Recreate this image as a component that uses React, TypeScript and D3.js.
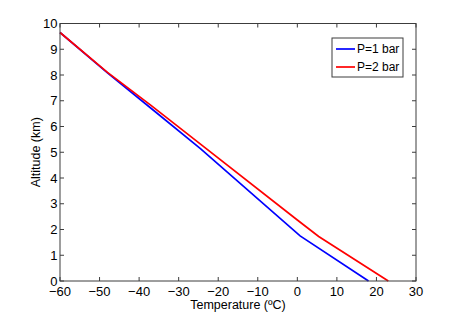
import React from "react";
import * as d3 from "d3";

const W = 460;
const H = 317;
const margin = { top: 23.5, right: 44, bottom: 36, left: 60 };

// temperature (°C) vs altitude (km)
const p1Temp = [-60, -48, -37, -24.5, 0.7, 18];
const p1Alt = [9.65, 8.08, 6.71, 5.14, 1.75, 0];
const p2Temp = [-60, -48, -37, -24, 0, 5.4, 23];
const p2Alt = [9.65, 8.1, 6.82, 5.26, 2.37, 1.73, 0];

const xTicks = [-60, -50, -40, -30, -20, -10, 0, 10, 20, 30];
const yTicks = [0, 1, 2, 3, 4, 5, 6, 7, 8, 9, 10];

const series = [
  { name: "P=1 bar", color: "#0000ff", temp: p1Temp, alt: p1Alt },
  { name: "P=2 bar", color: "#ff0000", temp: p2Temp, alt: p2Alt },
];

const fmt = (v: number) => (v < 0 ? "\u2212" + Math.abs(v) : String(v));

export default function App() {
  const x = d3
    .scaleLinear()
    .domain([-60, 30])
    .range([margin.left, W - margin.right]);
  const y = d3
    .scaleLinear()
    .domain([0, 10])
    .range([H - margin.bottom, margin.top]);

  const line = d3
    .line<[number, number]>()
    .x((d) => x(d[0]))
    .y((d) => y(d[1]));

  const x0 = x.range()[0];
  const x1 = x.range()[1];
  const y0 = y.range()[0];
  const y1 = y.range()[1];
  const tick = 4;
  const axisColor = "#3c3c3c";
  const font = "'Liberation Sans', Arial, Helvetica, sans-serif";

  const legX = 332;
  const legY = 38;

  return (
    <svg
      width={W}
      height={H}
      style={{ position: "absolute", left: 0, top: 0, background: "#fff" }}
      fontFamily={font}
    >
      <rect x={0} y={0} width={W} height={H} fill="#fff" />
      {series.map((s) => (
        <path
          key={s.name}
          d={line(s.temp.map((t, i) => [t, s.alt[i]] as [number, number])) || ""}
          fill="none"
          stroke={s.color}
          strokeWidth={1.7}
        />
      ))}
      <g stroke={axisColor} strokeWidth={1} fill="none">
        <rect x={x0} y={y1} width={x1 - x0} height={y0 - y1} />
        {xTicks.map((t) => (
          <g key={"xt" + t}>
            <line x1={x(t)} x2={x(t)} y1={y0} y2={y0 - tick} />
            <line x1={x(t)} x2={x(t)} y1={y1} y2={y1 + tick} />
          </g>
        ))}
        {yTicks.map((t) => (
          <g key={"yt" + t}>
            <line x1={x0} x2={x0 + tick} y1={y(t)} y2={y(t)} />
            <line x1={x1} x2={x1 - tick} y1={y(t)} y2={y(t)} />
          </g>
        ))}
      </g>
      <g fontSize={13} fill="#000">
        {xTicks.map((t) => (
          <text key={"xl" + t} x={x(t)} y={y0 + 14.5} textAnchor="middle">
            {fmt(t)}
          </text>
        ))}
        {yTicks.map((t) => (
          <text
            key={"yl" + t}
            x={x0 - 2.5}
            y={y(t)}
            dy="0.35em"
            textAnchor="end"
          >
            {fmt(t)}
          </text>
        ))}
      </g>
      <text
        x={(x0 + x1) / 2}
        y={y0 + 27.5}
        textAnchor="middle"
        fontSize={12.5}
        fill="#000"
      >
        Temperature (ºC)
      </text>
      <text
        transform={`translate(${x0 - 20},${(y0 + y1) / 2}) rotate(-90)`}
        textAnchor="middle"
        fontSize={12.5}
        fill="#000"
      >
        Altitude (km)
      </text>
      <g>
        <rect
          x={legX}
          y={legY}
          width={71}
          height={39}
          fill="#fff"
          stroke={axisColor}
          strokeWidth={1}
        />
        {series.map((s, i) => (
          <g key={"lg" + s.name}>
            <line
              x1={legX + 4}
              x2={legX + 23}
              y1={legY + 11 + i * 18}
              y2={legY + 11 + i * 18}
              stroke={s.color}
              strokeWidth={1.7}
            />
            <text
              x={legX + 25}
              y={legY + 11 + i * 18}
              dy="0.35em"
              fontSize={12}
              fill="#000"
            >
              {s.name}
            </text>
          </g>
        ))}
      </g>
    </svg>
  );
}
